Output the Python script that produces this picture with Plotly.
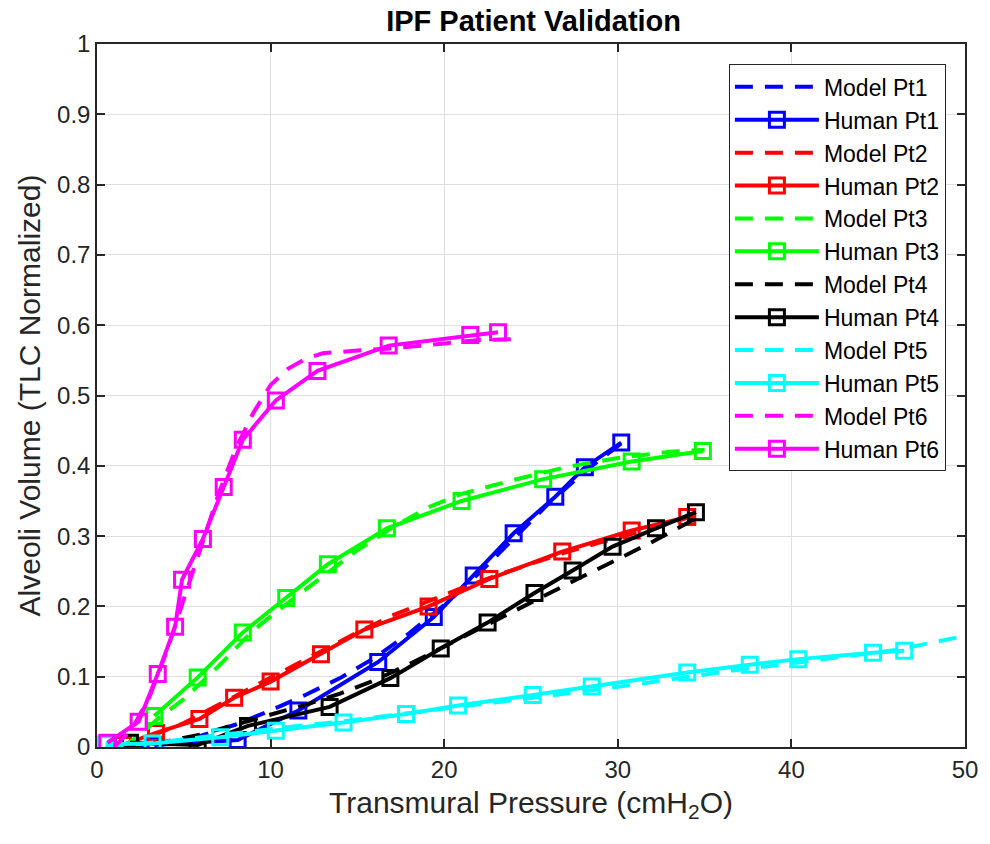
import plotly.graph_objects as go

# Human patient measurements (pressure in cmH2O, volume TLC-normalized)
human_pt1_p = [3.3, 8.1, 11.6, 16.2, 19.4, 21.7, 24.0, 26.4, 28.1, 30.2]
human_pt1_v = [0.003, 0.010, 0.052, 0.121, 0.185, 0.244, 0.304, 0.356, 0.398, 0.433]

human_pt2_p = [1.5, 3.4, 5.9, 7.9, 10.0, 12.9, 15.4, 19.1, 22.6, 26.8, 30.8, 34.0]
human_pt2_v = [0.003, 0.020, 0.040, 0.070, 0.093, 0.132, 0.167, 0.200, 0.239, 0.278, 0.308, 0.327]

human_pt3_p = [3.3, 5.8, 8.4, 10.9, 13.3, 16.7, 21.0, 25.7, 30.8, 34.9]
human_pt3_v = [0.044, 0.099, 0.163, 0.212, 0.260, 0.311, 0.350, 0.381, 0.406, 0.421]

human_pt4_p = [1.9, 5.8, 8.7, 13.4, 16.9, 19.8, 22.5, 25.2, 27.4, 29.7, 32.2, 34.5]
human_pt4_v = [0.006, 0.003, 0.030, 0.057, 0.098, 0.140, 0.177, 0.219, 0.251, 0.285, 0.311, 0.334]

human_pt5_p = [0.5, 3.2, 7.1, 10.3, 14.2, 17.8, 20.8, 25.1, 28.5, 34.0, 37.6, 40.4, 44.7, 46.5]
human_pt5_v = [0.004, 0.005, 0.014, 0.023, 0.035, 0.047, 0.059, 0.074, 0.086, 0.106, 0.117, 0.125, 0.134, 0.137]

human_pt6_p = [0.6, 2.4, 3.5, 4.5, 4.9, 6.1, 7.3, 8.4, 10.3, 12.7, 16.8, 21.5, 23.1]
human_pt6_v = [0.006, 0.036, 0.104, 0.171, 0.238, 0.296, 0.370, 0.437, 0.493, 0.535, 0.571, 0.586, 0.590]

# Model predictions
model_pt1_p = [2.0, 4.0, 6.0, 8.0, 10.0, 12.0, 14.0, 16.0, 18.0, 20.0, 22.0, 24.0, 26.0, 28.0, 30.2]
model_pt1_v = [0.0, 0.006, 0.016, 0.032, 0.052, 0.074, 0.098, 0.127, 0.162, 0.202, 0.247, 0.297, 0.346, 0.390, 0.432]

model_pt2_p = [1.5, 3.0, 5.0, 7.0, 9.0, 11.0, 13.0, 15.0, 17.0, 19.0, 21.0, 23.0, 25.0, 27.0, 29.0, 31.0, 33.0, 34.5]
model_pt2_v = [0.0, 0.014, 0.034, 0.060, 0.086, 0.111, 0.138, 0.163, 0.187, 0.207, 0.226, 0.244, 0.261, 0.277, 0.291, 0.305, 0.318, 0.330]

model_pt3_p = [1.5, 2.5, 3.5, 5.0, 7.0, 9.0, 11.0, 13.0, 15.0, 17.0, 19.0, 21.0, 24.0, 27.0, 30.0, 33.0, 35.0]
model_pt3_v = [0.0, 0.018, 0.040, 0.068, 0.115, 0.166, 0.205, 0.243, 0.280, 0.312, 0.340, 0.360, 0.380, 0.398, 0.411, 0.420, 0.423]

model_pt4_p = [1.5, 4.0, 6.0, 8.0, 10.0, 12.0, 14.0, 16.0, 18.0, 20.0, 22.0, 24.0, 26.0, 28.0, 30.0, 32.0, 34.5]
model_pt4_v = [0.0, 0.008, 0.018, 0.032, 0.046, 0.060, 0.076, 0.095, 0.118, 0.143, 0.168, 0.194, 0.219, 0.243, 0.267, 0.292, 0.325]

model_pt5_p = [0.5, 2.0, 4.0, 6.0, 8.0, 10.0, 12.0, 14.0, 16.0, 18.0, 20.0, 22.0, 25.0, 28.0, 31.0, 34.0, 37.0, 40.0, 43.0, 46.0, 48.0, 50.0]
model_pt5_v = [0.0, 0.003, 0.008, 0.014, 0.020, 0.026, 0.031, 0.036, 0.042, 0.048, 0.054, 0.060, 0.069, 0.079, 0.089, 0.100, 0.110, 0.119, 0.128, 0.138, 0.148, 0.158]

model_pt6_p = [1.0, 2.0, 3.0, 4.0, 5.0, 6.0, 7.0, 8.0, 9.0, 10.0, 11.0, 12.0, 13.0, 15.0, 17.0, 20.0, 22.0, 24.0]
model_pt6_v = [0.0, 0.025, 0.070, 0.135, 0.210, 0.285, 0.360, 0.425, 0.475, 0.515, 0.538, 0.552, 0.560, 0.564, 0.567, 0.574, 0.579, 0.580]

patients = [
    ("Pt1", "#0000FF", model_pt1_p, model_pt1_v, human_pt1_p, human_pt1_v),
    ("Pt2", "#FF0000", model_pt2_p, model_pt2_v, human_pt2_p, human_pt2_v),
    ("Pt3", "#00FF00", model_pt3_p, model_pt3_v, human_pt3_p, human_pt3_v),
    ("Pt4", "#000000", model_pt4_p, model_pt4_v, human_pt4_p, human_pt4_v),
    ("Pt5", "#00FFFF", model_pt5_p, model_pt5_v, human_pt5_p, human_pt5_v),
    ("Pt6", "#FF00FF", model_pt6_p, model_pt6_v, human_pt6_p, human_pt6_v),
]

FONT = "Liberation Sans, Arial, Helvetica, sans-serif"

fig = go.Figure()
for name, color, mp, mv, hp, hv in patients:
    fig.add_trace(go.Scatter(
        x=mp, y=mv, mode="lines", name=f"Model {name}",
        line=dict(color=color, width=4, dash="18px,12px"),
    ))
    fig.add_trace(go.Scatter(
        x=hp, y=hv, mode="lines+markers", name=f"Human {name}",
        line=dict(color=color, width=4),
        marker=dict(symbol="square-open", size=15, color=color,
                    line=dict(color=color, width=3)),
    ))

axis_common = dict(
    showline=True, linecolor="#262626", linewidth=1.5, mirror="ticks",
    ticks="inside", ticklen=8, tickcolor="#262626", tickwidth=1.5,
    showgrid=True, gridcolor="#DFDFDF", gridwidth=1,
    zeroline=False,
    tickfont=dict(family=FONT, size=24, color="#262626"),
)

fig.update_xaxes(
    range=[0, 50], tickmode="array", tickvals=[0, 10, 20, 30, 40, 50],
    title=dict(text="Transmural Pressure (cmH<sub>2</sub>O)",
               font=dict(family=FONT, size=30, color="#262626"), standoff=10),
    **axis_common,
)
fig.update_yaxes(
    range=[0, 1], tickmode="array",
    tickvals=[0, 0.1, 0.2, 0.3, 0.4, 0.5, 0.6, 0.7, 0.8, 0.9, 1],
    ticktext=["0", "0.1", "0.2", "0.3", "0.4", "0.5", "0.6", "0.7", "0.8", "0.9", "1"],
    title=dict(text="Alveoli Volume (TLC Normalized)",
               font=dict(family=FONT, size=30, color="#262626"), standoff=8),
    **axis_common,
)

fig.update_layout(
    width=990, height=844,
    margin=dict(l=97, r=20, t=44, b=97),
    paper_bgcolor="white", plot_bgcolor="white",
    title=dict(text="<b>IPF Patient Validation</b>", x=0.539, xanchor="center",
               y=0.975, yanchor="middle",
               font=dict(family=FONT, size=29, color="black")),
    showlegend=True,
    legend=dict(
        x=0.978, xanchor="right", y=0.971, yanchor="top",
        bgcolor="white", bordercolor="#262626", borderwidth=1,
        font=dict(family=FONT, size=23, color="black"),
        itemwidth=84,
    ),
)

fig.write_html("out.html")
